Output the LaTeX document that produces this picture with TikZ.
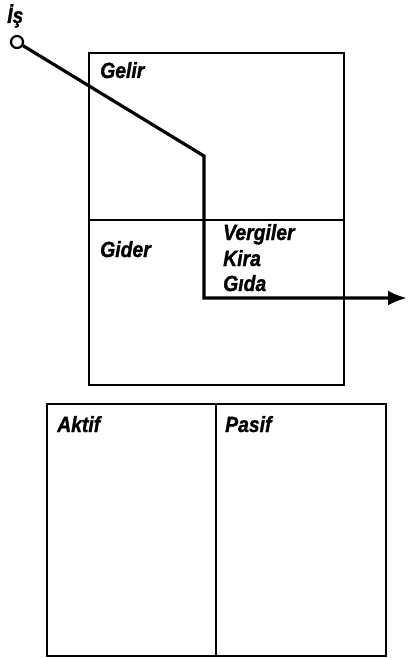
\documentclass[tikz,border=0pt]{standalone}
\usepackage{fontspec}
\setmainfont{Liberation Sans}
\newfontfamily\lblfont[FakeStretch=0.88,FakeBold=1.2]{Liberation Sans}
\usetikzlibrary{arrows.meta,positioning}

\tikzset{
  lbl/.style={inner sep=0pt,anchor=base west,font=\lblfont\fontsize{22}{24}\selectfont\bfseries\itshape},
  frame/.style={line width=2pt},
  flow/.style={line width=3.2pt,line join=miter}
}

\begin{document}
\begin{tikzpicture}[x=1pt,y=-1pt]
  \useasboundingbox (0,0) rectangle (407,658);
  % income / expense sheet
  \draw[frame] (89,53) rectangle (344,385);
  \draw[frame] (89,219.5) -- (344,219.5);
  % balance sheet
  \draw[frame] (47,404) rectangle (386,656);
  \draw[frame] (216,404) -- (216,656);

  \node[lbl] (is) at (7,23) {İş};
  \node[circle,draw,line width=2.2pt,minimum size=12pt,inner sep=0pt] (start) at (17,42) {};
  \node[lbl] (gelir) at (100,78) {Gelir};
  \node[lbl] (gider) at (100,257) {Gider};
  \node[lbl] (vergiler) at (223,240) {Vergiler};
  \node[lbl] (kira) at (223,266) {Kira};
  \node[lbl] (gida) at (223,291) {Gıda};
  \node[lbl] (aktif) at (57,432) {Aktif};
  \node[lbl] (pasif) at (225,432) {Pasif};

  \coordinate (b1) at (204,156);
  \coordinate (b2) at (204,298);
  \coordinate (out) at (407,298);
  \draw[flow,-{Latex[length=19pt,width=15pt]}] (start) -- (b1) -- (b2) -- (out);
\end{tikzpicture}
\end{document}
